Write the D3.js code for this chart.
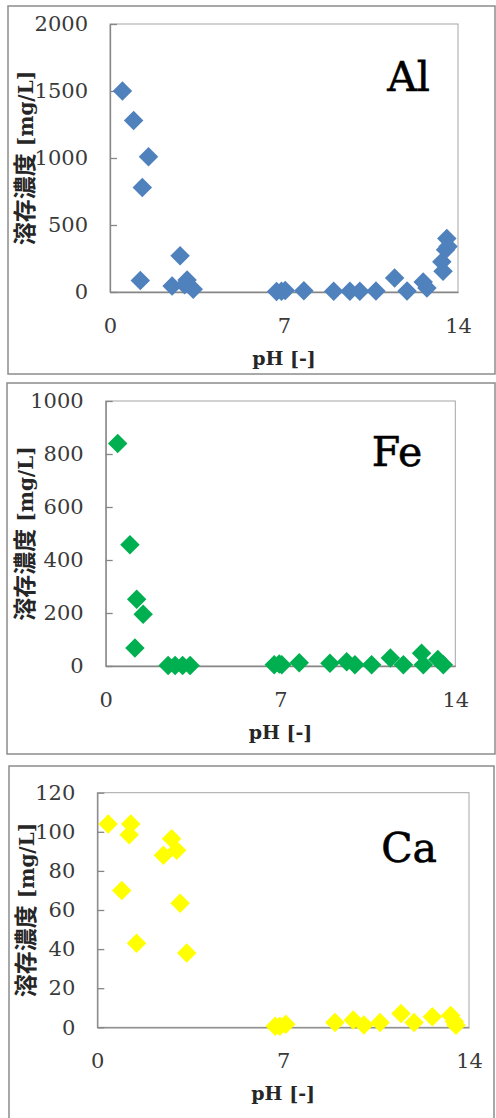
<!DOCTYPE html>
<html>
<head>
<meta charset="utf-8">
<script src="https://cdn.jsdelivr.net/npm/d3@7"></script>
<style>
  body { margin: 0; background: #fff; }
  svg { display: block; }
</style>
</head>
<body>
<svg id="chart" width="496" height="1118"></svg>
<script>
// data: [pH, concentration mg/L]
var alData = [[0.5,1500],[0.95,1280],[1.55,1010],[1.3,780],[1.22,85],[2.82,270],[2.5,45],
  [3.1,90],[3.0,55],[3.35,20],[6.7,3],[6.9,5],[7.05,12],[7.8,10],[9.0,5],[9.65,5],[10.05,5],
  [10.7,8],[11.45,105],[11.95,8],[12.6,75],[12.75,30],[13.55,400],[13.5,315],[13.6,340],
  [13.35,225],[13.4,155]];
var feData = [[0.48,840],[0.97,458],[1.24,252],[1.5,195],[1.17,68],[2.5,2],[2.78,2],[3.08,2],
  [3.38,2],[6.75,5],[6.95,8],[7.05,5],[7.75,12],[8.98,10],[9.65,16],[9.98,5],[10.65,5],
  [11.4,30],[11.92,5],[12.65,48],[12.72,5],[13.3,25],[13.52,5]];
var caData = [[0.41,104],[1.26,104],[1.2,98.5],[0.92,70],[1.48,43],[2.8,96.5],[2.49,88],
  [2.99,90.5],[3.12,63.5],[3.37,38],[6.7,0.5],[6.88,0.5],[7.1,1.5],[8.95,2.5],[9.64,3.7],
  [10.04,1.2],[10.65,2.4],[11.44,7],[11.93,2.4],[12.62,5.4],[13.31,6],[13.45,3],[13.51,1]];

var xTicks = [0, 7, 14];
var alTicks = [0, 500, 1000, 1500, 2000];
var feTicks = [0, 200, 400, 600, 800, 1000];
var caTicks = [0, 20, 40, 60, 80, 100, 120];

var yTitleJa = "溶存濃度";
var yTitleUnit = " [mg/L]";
var xTitle = "pH [-]";

// panel layout
var panels = [
  {name: "Al", data: alData, ticks: alTicks, color: "#4F81BD",
   box: [8, 6, 487, 368], plot: [110, 24, 348, 268], labelDx: 28, labelY: 67, yTitleX: -83},
  {name: "Fe", data: feData, ticks: feTicks, color: "#00B050",
   box: [7, 383, 488, 371], plot: [105.7, 401, 349.6, 265], labelDx: 33, labelY: 65, yTitleX: -79},
  {name: "Ca", data: caData, ticks: caTicks, color: "#FFFF00",
   box: [9, 766, 485, 380], plot: [97.3, 792.7, 371.7, 234.6], labelDx: 32, labelY: 69, yTitleX: -69}
];

var svg = d3.select("#chart");
var serif = "'DejaVu Serif', serif";
var gothic = "'Noto Sans CJK JP', sans-serif";

panels.forEach(function(p) {
  svg.append("rect")
      .attr("x", p.box[0]).attr("y", p.box[1])
      .attr("width", p.box[2]).attr("height", p.box[3])
      .attr("fill", "none")
      .attr("stroke", "#8c8c8c")
      .attr("stroke-width", 1.5);

  var w = p.plot[2], h = p.plot[3];
  var g = svg.append("g")
      .attr("transform", "translate(" + p.plot[0] + "," + p.plot[1] + ")");

  var x = d3.scaleLinear().domain([0, 14]).range([0, w]);
  var y = d3.scaleLinear().domain([0, d3.max(p.ticks)]).range([h, 0]);

  // plot area border
  g.append("rect")
      .attr("width", w).attr("height", h)
      .attr("fill", "none")
      .attr("stroke", "#a6a6a6");

  var yAxis = g.append("g")
      .call(d3.axisLeft(y).tickValues(p.ticks).tickFormat(d3.format("d"))
        .tickSizeInner(-7).tickSizeOuter(0).tickPadding(22));
  var xAxis = g.append("g")
      .attr("transform", "translate(0," + h + ")")
      .call(d3.axisBottom(x).tickValues(xTicks).tickSize(0).tickPadding(26));

  [yAxis, xAxis].forEach(function(a) {
    a.select(".domain").attr("stroke", "#868686").attr("stroke-width", 1.3);
    a.selectAll(".tick line").attr("stroke", "#868686").attr("stroke-width", 1.3);
    a.selectAll(".tick text")
        .attr("fill", "#3a3a3a")
        .style("font-family", serif)
        .style("font-size", "21px");
  });

  // diamonds
  g.selectAll(".pt")
      .data(p.data)
    .enter().append("path")
      .attr("class", "pt")
      .attr("d", d3.symbol(d3.symbolSquare).size(190))
      .attr("transform", function(d) {
        return "translate(" + x(d[0]) + "," + y(d[1]) + ") rotate(45)";
      })
      .attr("fill", p.color);

  // element label
  g.append("text")
      .attr("x", w - p.labelDx)
      .attr("y", p.labelY)
      .attr("text-anchor", "end")
      .style("font-family", serif)
      .style("font-size", "41px")
      .attr("fill", "#000")
      .attr("stroke", "#000")
      .attr("stroke-width", 0.6)
      .text(p.name);

  // axis titles
  var yt = g.append("text")
      .attr("transform", "translate(" + p.yTitleX + "," + (h / 2) + ") rotate(-90)")
      .attr("text-anchor", "middle")
      .attr("dominant-baseline", "middle")
      .style("font-weight", "bold")
      .attr("fill", "#262626");
  yt.append("tspan")
      .style("font-family", gothic)
      .style("font-size", "23px")
      .text(yTitleJa);
  yt.append("tspan")
      .style("font-family", serif)
      .style("font-size", "20px")
      .text(yTitleUnit);

  g.append("text")
      .attr("x", w / 2)
      .attr("y", h + 73)
      .attr("text-anchor", "middle")
      .style("font-family", serif)
      .style("font-size", "19px")
      .style("font-weight", "bold")
      .attr("fill", "#262626")
      .text(xTitle);
});
</script>
</body>
</html>
